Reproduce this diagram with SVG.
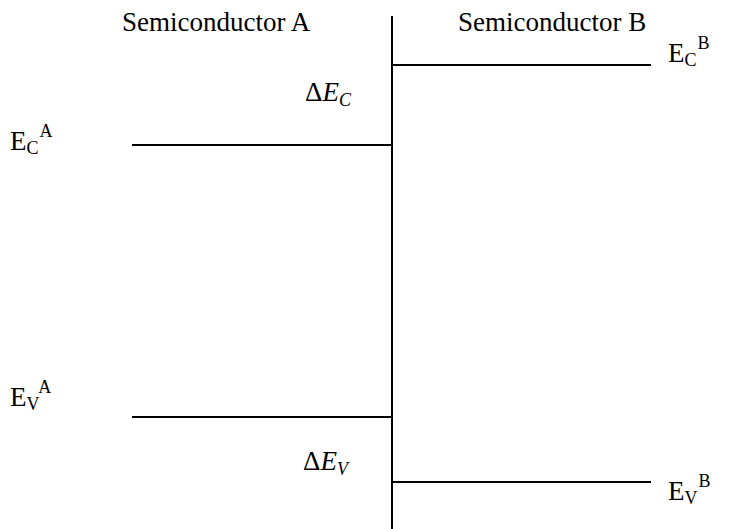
<svg xmlns="http://www.w3.org/2000/svg" width="739" height="529" viewBox="0 0 739 529">
<style>
.ln{stroke:#000;stroke-width:2;fill:none}
text{font-family:'Liberation Serif','Times New Roman','DejaVu Serif',serif;fill:#000}
.h{font-size:27px}
.e{font-size:27px}
.s{font-size:18px}
.i{font-style:italic}
</style>
<rect width="739" height="529" fill="#fff"/>
<g id="connectors">
<line class="ln" x1="392" y1="16" x2="392" y2="529"/>
</g>
<g id="ecA"><line class="ln" x1="132" y1="145" x2="392" y2="145"/>
<text class="e" x="10" y="150">E<tspan class="s" dy="4">C</tspan><tspan class="s" dx="1" dy="-17">A</tspan></text></g>
<g id="ecB"><line class="ln" x1="392" y1="65" x2="651" y2="65"/>
<text class="e" x="668" y="62">E<tspan class="s" dy="4">C</tspan><tspan class="s" dx="1" dy="-17">B</tspan></text></g>
<g id="evA"><line class="ln" x1="132" y1="417" x2="392" y2="417"/>
<text class="e" x="10" y="406">E<tspan class="s" dy="4">V</tspan><tspan class="s" dx="1" dy="-17">A</tspan></text></g>
<g id="evB"><line class="ln" x1="392" y1="482" x2="651" y2="482"/>
<text class="e" x="668" y="500">E<tspan class="s" dy="4">V</tspan><tspan class="s" dx="1" dy="-17">B</tspan></text></g>
<g id="dEc"><text class="e" x="305" y="101">Δ<tspan class="i">E</tspan><tspan class="i s" dy="5">C</tspan></text></g>
<g id="dEv"><text class="e" x="303" y="470">Δ<tspan class="i">E</tspan><tspan class="i s" dy="5">V</tspan></text></g>
<g id="semA"><text class="h" x="122" y="31">Semiconductor A</text></g>
<g id="semB"><text class="h" x="458" y="31">Semiconductor B</text></g>
</svg>
